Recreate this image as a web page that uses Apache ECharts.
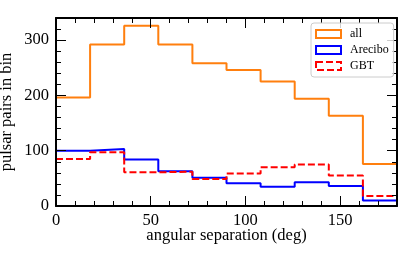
<!DOCTYPE html>
<html><head><meta charset="utf-8">
<script src="https://cdn.jsdelivr.net/npm/echarts@6/dist/echarts.min.js"></script>
<style>html,body{margin:0;padding:0;background:#fff}#c{width:416px;height:267px}</style>
</head><body><div id="c"></div>
<script>
// bin edges (deg) and per-bin counts
const binEdges = [0, 18, 36, 54, 72, 90, 108, 126, 144, 162, 180];
const allCounts = [196, 292, 326, 292, 258, 246, 225, 194, 163, 76];
const areciboCounts = [100, 103, 84, 63, 51, 41, 35, 43, 36, 10];
const gbtCounts = [85, 97, 61, 62, 49, 59, 70, 75, 55, 18];
const seriesNames = ['all', 'Arecibo', 'GBT'];
const xTitle = 'angular separation (deg)';
const yTitle = 'pulsar pairs in bin';

const FONT = 'Liberation Serif';
const colors = ['#ff7f0e', '#0000ff', '#ff0000'];

function stepData(counts) {
  return binEdges.map((e, i) => [e, counts[Math.min(i, counts.length - 1)]]);
}

function axis(kind, pos, major, withLabels) {
  const isX = kind === 'x';
  const a = {
    type: 'value',
    position: pos,
    min: 0,
    max: isX ? 180 : 340,
    interval: major ? (isX ? 50 : 100) : (isX ? 10 : 20),
    splitLine: { show: false },
    axisLine: { show: major, onZero: false, lineStyle: { color: '#000', width: 2 } },
    axisTick: { show: true, inside: true, length: major ? 10 : 5, lineStyle: { color: '#000', width: 1 } },
    axisLabel: { show: withLabels, showMaxLabel: false, color: '#000', fontFamily: FONT, fontSize: 16.5, margin: isX ? 6 : 7 },
    z: 10
  };
  if (withLabels) {
    a.name = isX ? xTitle : yTitle;
    a.nameLocation = 'middle';
    a.nameGap = isX ? 21 : 41;
    a.nameMoveOverlap = false;
    a.nameTextStyle = { color: '#000', fontFamily: FONT, fontSize: 16.5 };
  }
  return a;
}

const chart = echarts.init(document.getElementById('c'), null, { renderer: 'canvas' });
const dashes = [null, null, [7, 3]];
const countsList = [allCounts, areciboCounts, gbtCounts];

chart.setOption({
  animation: false,
  backgroundColor: '#fff',
  grid: { left: 56, right: 19, top: 18, bottom: 61, containLabel: false, outerBoundsMode: 'none' },
  xAxis: [axis('x', 'bottom', true, true), axis('x', 'bottom', false, false), axis('x', 'top', true, false), axis('x', 'top', false, false)],
  yAxis: [axis('y', 'left', true, true), axis('y', 'left', false, false), axis('y', 'right', true, false), axis('y', 'right', false, false)],
  legend: {
    orient: 'vertical',
    left: 311, top: 23,
    padding: [5, 5, 5, 4],
    itemGap: 4,
    itemWidth: 25, itemHeight: 8,
    backgroundColor: 'rgba(255,255,255,0.8)',
    borderColor: '#cccccc', borderWidth: 1, borderRadius: 3,
    textStyle: { color: '#000', fontFamily: FONT, fontSize: 12, lineHeight: 12, padding: [0, 0, 0, 4] },
    data: seriesNames.map((n, i) => ({
      name: n, icon: 'rect',
      itemStyle: { color: 'rgba(0,0,0,0)', borderColor: colors[i], borderWidth: 2, borderType: dashes[i] || 'solid' }
    })),
    z: 20
  },
  series: seriesNames.map((n, i) => ({
    name: n,
    type: 'line',
    step: 'end',
    showSymbol: false,
    symbol: 'none',
    xAxisIndex: 0, yAxisIndex: 0,
    data: stepData(countsList[i]),
    itemStyle: { color: colors[i] },
    lineStyle: { color: colors[i], width: 2, type: dashes[i] || 'solid' },
    z: 2 + i
  }))
});
</script>
</body></html>
